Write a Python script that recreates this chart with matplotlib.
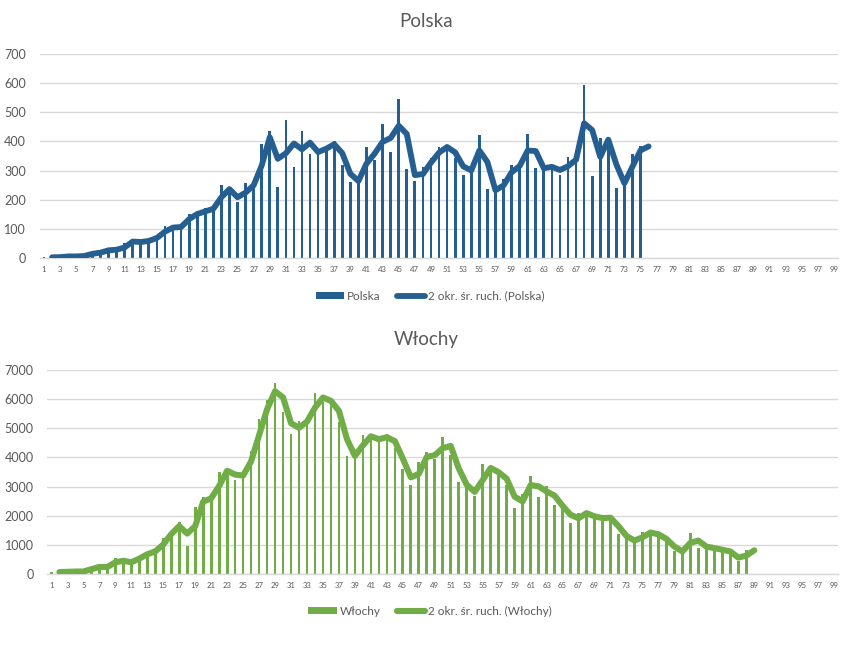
"""
Daily new COVID-19 cases: Polska vs Włochy
Column chart per day with a 2-period moving average line (Excel style)
"""

import numpy as np
import pandas as pd
import matplotlib
matplotlib.use('Agg')
import matplotlib.pyplot as plt
from matplotlib.patches import Patch
from matplotlib.lines import Line2D

# Daily new cases, day 1 .. N
polska_cases = [
    4, 1, 5, 6, 5, 9, 20, 17, 36, 21,
    52, 61, 49, 68, 70, 111, 98, 115, 152, 150,
    170, 168, 249, 224, 193, 256, 243, 392, 437, 244,
    475, 311, 435, 357, 370, 380, 401, 318, 260, 268,
    380, 336, 461, 363, 545, 306, 263, 313, 342, 381,
    381, 344, 285, 316, 422, 237, 228, 270, 318, 313,
    425, 309, 307, 319, 285, 345, 330, 595, 283, 411,
    401, 241, 272, 356, 383,
]

wlochy_cases = [
    59, 73, 77, 93, 78, 250, 238, 240, 566, 342,
    466, 587, 769, 778, 1247, 1492, 1797, 977, 2313, 2651,
    2547, 3497, 3590, 3233, 3526, 4207, 5322, 5986, 6557, 5560,
    4789, 5249, 5210, 6203, 5909, 5974, 5217, 4050, 4053, 4782,
    4668, 4585, 4805, 4316, 3599, 3039, 3836, 4204, 3951, 4694,
    4092, 3153, 2972, 2667, 3786, 3493, 3491, 3047, 2256, 2729,
    3370, 2646, 3021, 2357, 2324, 1739, 2091, 2086, 1872, 1965,
    1900, 1389, 1221, 1075, 1444, 1401, 1327, 1083, 802, 744,
    1402, 888, 992, 789, 875, 675, 451, 813,
]

n_categories = 99
x_tick_days = list(range(1, n_categories + 1, 2))

# Excel-like colours
text_color = '#595959'
grid_color = '#D9D9D9'
polska_color = '#255E91'
wlochy_color = '#70AD47'

plt.rcParams['font.family'] = ['Lato', 'DejaVu Sans']


def moving_average_2(values):
    """Excel 2-period moving average trendline (starts at day 2, runs one past the data)."""
    s = pd.Series(list(values) + [np.nan])
    ma = s.rolling(2, min_periods=1).mean().to_numpy()
    days = np.arange(1, len(s) + 1)
    return days[1:], ma[1:]


def draw_panel(ax, values, color, y_max, y_step, lw):
    days = np.arange(1, len(values) + 1)
    ax.bar(days, values, width=0.34, color=color, zorder=2)

    ma_days, ma_vals = moving_average_2(values)
    ax.plot(ma_days, ma_vals, color=color, linewidth=lw, solid_capstyle='round',
            solid_joinstyle='round', zorder=3)

    ax.set_xlim(0.5, n_categories + 0.5)
    ax.set_ylim(0, y_max)
    ax.set_yticks(np.arange(0, y_max + 1, y_step))
    ax.set_xticks(x_tick_days)
    ax.set_xticklabels([str(d) for d in x_tick_days])

    ax.grid(True, axis='y', color=grid_color, linewidth=1.0, zorder=0)
    ax.set_axisbelow(True)
    for side in ('top', 'right', 'left'):
        ax.spines[side].set_visible(False)
    ax.spines['bottom'].set_color(grid_color)
    ax.spines['bottom'].set_linewidth(1.0)

    ax.tick_params(axis='y', length=0, labelsize=9, colors=text_color, pad=10)
    ax.tick_params(axis='x', length=0, labelsize=5.6, colors=text_color, pad=6)


fig = plt.figure(figsize=(8.52, 6.47), dpi=100)
fig.patch.set_facecolor('white')

ax_pl = fig.add_axes([0.047, 0.6012, 0.9366, 0.3153])
ax_it = fig.add_axes([0.0557, 0.1128, 0.9280, 0.3153])

draw_panel(ax_pl, polska_cases, polska_color, 700, 100, 4.2)
draw_panel(ax_it, wlochy_cases, wlochy_color, 7000, 1000, 4.4)

# Chart titles, centred on the whole picture like the Excel chart objects
fig.text(0.5, 0.966, 'Polska', ha='center', va='center', fontsize=13.5, color=text_color)
fig.text(0.5, 0.475, 'Włochy', ha='center', va='center', fontsize=13.5, color=text_color)

# Legends below each panel
for name, color, ypos, lw in (('Polska', polska_color, 0.5425, 4.2),
                              ('Włochy', wlochy_color, 0.0556, 4.4)):
    handles = [Patch(facecolor=color, edgecolor='none'),
               Line2D([0], [0], color=color, linewidth=lw, solid_capstyle='round')]
    labels = [name, f'2 okr. śr. ruch. ({name})']
    fig.legend(handles, labels, loc='center', bbox_to_anchor=(0.505, ypos), ncol=2,
               frameon=False, fontsize=8.5, labelcolor=text_color,
               handlelength=2.4, handleheight=0.6, handletextpad=0.25,
               columnspacing=1.4)

fig.savefig('out.png', dpi=100, facecolor='white')
plt.close(fig)
